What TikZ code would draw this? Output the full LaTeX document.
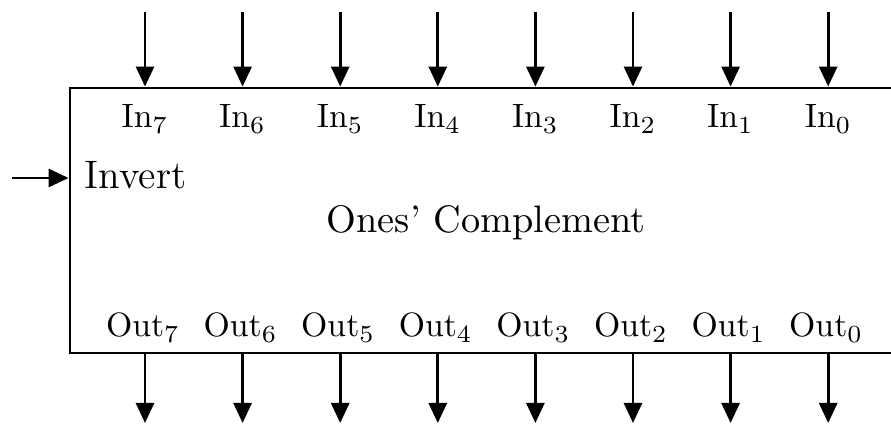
\documentclass[tikz,border=0pt]{standalone}
\usepackage{fontspec}
\usepackage{tikz}
\usetikzlibrary{arrows.meta,positioning}

\begin{document}
\begin{tikzpicture}[
    font=\fontsize{9.6}{12}\selectfont,
    block/.style={draw, line width=0.8pt, minimum width=8.25cm, minimum height=2.65cm, inner sep=0pt},
    pin/.style={inner sep=0pt, anchor=base},
    arrow/.style={-{Triangle[length=2mm, width=1.8mm]}, line width=0.8pt}
]
\useasboundingbox (0,0) rectangle (8.91,4.25);

% Block
\node[block] (box) at (4.825,2.045) {};
\node[font=\fontsize{10.9}{13}\selectfont\addfontfeatures{FakeBold=1.2}] (title) at (4.86,2.02) {Ones' Complement};
\node[pin, anchor=base west, font=\fontsize{11.3}{13}\selectfont] (inv) at (0.84,2.36) {Invert};

% Inputs and outputs
\foreach \k in {0,...,7} {
  \pgfmathtruncatemacro{\b}{7-\k}
  \pgfmathsetmacro{\x}{1.45+0.976*\k}
  \node[pin] (in\b) at (\x,2.97) {In$_{\b}$};
  \node[pin] (out\b) at (\x-0.02,0.88) {Out$_{\b}$};
  \coordinate (src\b) at (\x,4.13);
  \coordinate (dst\b) at (\x,0.02);
  \draw[arrow] (src\b) -- (src\b |- box.north);
  \draw[arrow] (src\b |- box.south) -- (dst\b);
}

% Invert control
\coordinate (ctl) at (0.12,2.47);
\draw[arrow] (ctl) -- (ctl -| box.west);

\end{tikzpicture}
\end{document}
